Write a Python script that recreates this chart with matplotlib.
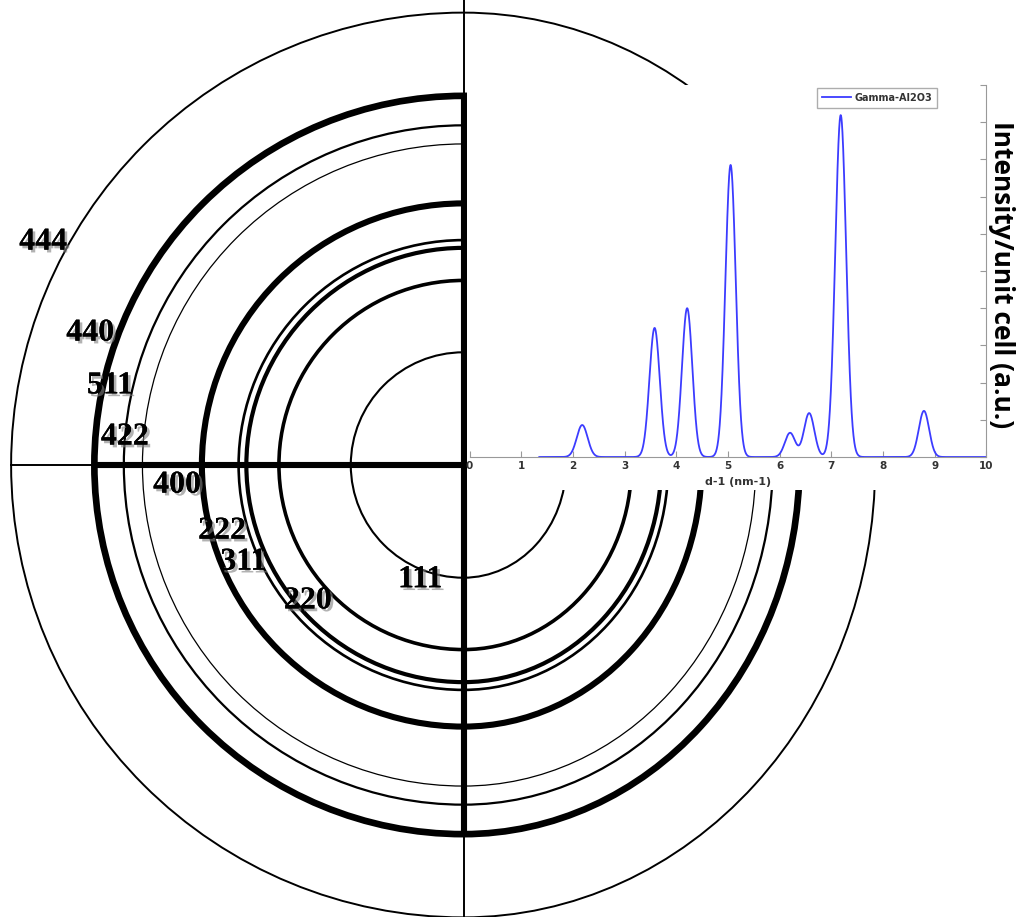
import numpy as np
import matplotlib
matplotlib.use('Agg')
import matplotlib.pyplot as plt
from matplotlib.patches import Arc, Rectangle
import matplotlib.patheffects as pe

# Diffraction rings (radius in nm-1, same scale as the profile x axis)
hkl = ['111', '220', '311', '222', '400', '422', '511', '440', '444']
ring_r = [2.18, 3.57, 4.20, 4.35, 5.06, 6.21, 6.57, 7.14, 8.75]

# Simulated profile: peak positions (nm-1), heights (a.u.), widths
peak_pos = [2.18, 3.58, 4.21, 5.05, 6.20, 6.57, 7.18, 8.79]
peak_int = [0.86, 3.47, 4.00, 7.85, 0.65, 1.18, 9.19, 1.24]
peak_sig = [0.105, 0.10, 0.10, 0.10, 0.10, 0.10, 0.105, 0.10]
x_start, x_end = 1.35, 10.0

# styles
ring_lw = [1.5, 2.6, 3.0, 1.9, 4.4, 0.9, 1.6, 4.8, 1.4]
label_x = [-0.84, -3.01, -4.26, -4.67, -5.54, -6.55, -6.84, -7.22, -8.13]
label_y = [-2.22, -2.63, -1.88, -1.28, -0.39, 0.54, 1.53, 2.55, 4.31]
x_squeeze = 0.91   # right half of the pattern is squeezed horizontally
px = 51.7          # pixels per nm-1

W, H = 1016, 917
cx, cy = 463.5, 465.0
fig = plt.figure(figsize=(W / 100, H / 100), dpi=100)

## Ring pattern
ax = fig.add_axes([0, 0, 1, 1])
ax.set_xlim(-cx / px, (W - cx) / px)
ax.set_ylim(-(H - cy) / px, cy / px)
ax.axis('off')

for r, lw in zip(ring_r, ring_lw):
    ax.add_patch(Arc((0, 0), 2 * r, 2 * r, theta1=90, theta2=270, lw=lw, color='black'))
    ax.add_patch(Arc((0, 0), 2 * r * x_squeeze, 2 * r, theta1=-90, theta2=90, lw=lw, color='black'))

r_out, r_thick = max(ring_r), ring_r[hkl.index('440')]
ax.plot([-r_out, 0], [0, 0], color='black', lw=1.4)
ax.plot([-r_thick, 0], [0, 0], color='black', lw=4.4, solid_capstyle='butt')
ax.plot([0, 0], [-(H - cy) / px, cy / px], color='black', lw=1.4)
ax.plot([0, 0], [-r_thick, r_thick], color='black', lw=4.4, solid_capstyle='butt')

# white panel behind the profile plot (from y=490px up to y=85px)
ax.add_patch(Rectangle((3 / px, -25 / px), (W - cx) / px, (490 - 85) / px,
                       facecolor='white', edgecolor='none', zorder=5))

shadow = [pe.withSimplePatchShadow(offset=(2, -2), shadow_rgbFace='gray', alpha=0.6), pe.Normal()]
for lab, lx, ly in zip(hkl, label_x, label_y):
    ax.text(lx, ly, lab, fontsize=23, fontweight='bold', family='Liberation Serif',
            ha='center', va='center', zorder=6, path_effects=shadow)

## Profile plot
x0, x1 = 469.5, 986.5
y0, y1 = 457, 85
pax = fig.add_axes([x0 / W, 1 - y0 / H, (x1 - x0) / W, (y0 - y1) / H])
pax.set_zorder(10)
pax.patch.set_alpha(0)

x = np.linspace(x_start, x_end, 3000)
y = np.zeros_like(x)
for p, a, s in zip(peak_pos, peak_int, peak_sig):
    y += a * np.exp(-0.5 * ((x - p) / s) ** 2)
pax.plot(x, y, color='#3c3cff', lw=1.3, label='Gamma-Al2O3')

pax.set_xlim(0, 10)
pax.set_ylim(0, 10)
pax.set_xticks(range(0, 11))
pax.set_yticks(range(0, 11))
pax.tick_params(axis='x', direction='in', length=4, color='#999999', labelsize=7.5, pad=3, labelcolor='#333333')
pax.tick_params(axis='y', direction='in', length=4, color='#999999', left=False, right=True,
                labelleft=False, labelright=False)
for lab in pax.get_xticklabels():
    lab.set_fontweight('bold')
for side in ['left', 'top']:
    pax.spines[side].set_visible(False)
for side in ['right', 'bottom']:
    pax.spines[side].set_color('#999999')
    pax.spines[side].set_linewidth(0.8)
pax.set_xlabel('d-1 (nm-1)', fontsize=8, fontweight='bold', color='#333333', labelpad=1)
pax.xaxis.set_label_coords(0.52, -0.055)

leg = pax.legend(loc='upper right', bbox_to_anchor=(0.905, 0.992), fontsize=7, frameon=True,
                 fancybox=False, edgecolor='#999999', handlelength=3.0, borderpad=0.5,
                 handletextpad=0.4, borderaxespad=0)
for t in leg.get_texts():
    t.set_fontweight('bold')
    t.set_color('#333333')

fig.text(1001 / W, 1 - 275 / H, 'Intensity/unit cell (a.u.)', rotation=-90, ha='center', va='center',
         fontsize=19, fontweight='bold', family=['Open Sans', 'DejaVu Sans'])

fig.savefig('out.png', dpi=100)
